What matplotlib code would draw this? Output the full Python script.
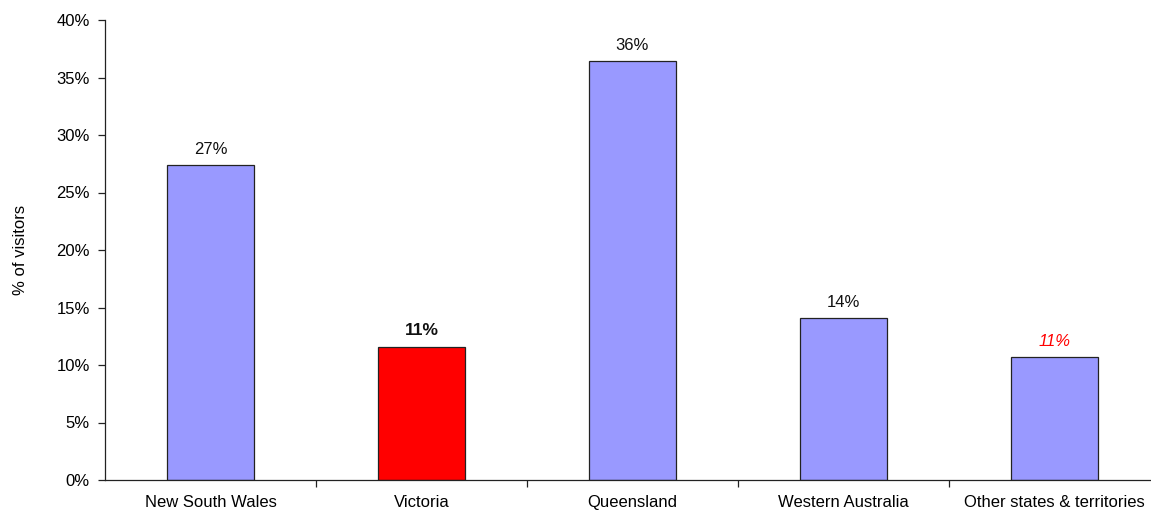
import matplotlib
matplotlib.use("Agg")
from matplotlib import pyplot as plt
from matplotlib.ticker import PercentFormatter

categories = [
    "New South Wales",
    "Victoria",
    "Queensland",
    "Western Australia",
    "Other states & territories",
]
shares = [27.4, 11.6, 36.4, 14.1, 10.7]  # % of visitors
labels = ["27%", "11%", "36%", "14%", "11%"]
y_ticks = [0, 5, 10, 15, 20, 25, 30, 35, 40]

plt.rcParams["font.family"] = ["Liberation Sans", "DejaVu Sans"]
plt.rcParams["font.size"] = 12

W, H = 1151, 513
fig = plt.figure(figsize=(W / 100, H / 100), dpi=100)
# axis from x=105 to 1160 px (runs past the right edge), y from 20 to 480 px
ax = fig.add_axes([105 / W, 1 - 480 / H, 1055 / W, 460 / H])

colors = ["#9999ff", "#ff0000", "#9999ff", "#9999ff", "#9999ff"]
x = list(range(len(categories)))
ax.bar(x, shares, width=0.41, color=colors, edgecolor="#222222", linewidth=0.9)

# data labels
styles = [
    {},
    {"fontweight": "bold", "fontsize": 12.5},
    {},
    {},
    {"style": "italic", "color": "#ff0000"},
]
for xi, v, lab, st in zip(x, shares, labels, styles):
    kw = {"color": "#111111"}
    kw.update(st)
    ax.annotate(lab, (xi, v), xytext=(0, 6), textcoords="offset points",
                ha="center", va="bottom", **kw)

ax.set_xlim(-0.5, len(categories) - 0.5)
ax.set_ylim(0, 40)
ax.set_yticks(y_ticks)
ax.yaxis.set_major_formatter(PercentFormatter(decimals=0))
ax.set_ylabel("% of visitors", labelpad=20)

# x ticks at the category boundaries, labels centred under bars
ax.set_xticks([i + 0.5 for i in x[:-1]])
ax.set_xticklabels([])
ax.set_xticks(x, minor=True)
ax.set_xticklabels(categories, minor=True)
ax.tick_params(axis="x", which="minor", length=0, pad=11)
ax.tick_params(axis="x", which="major", length=5, width=0.9, color="#222222")
ax.tick_params(axis="y", length=5, width=0.9, color="#222222", pad=6)

for side in ["top", "right"]:
    ax.spines[side].set_visible(False)
for side in ["left", "bottom"]:
    ax.spines[side].set_color("#222222")
    ax.spines[side].set_linewidth(0.9)

plt.savefig("out.png", dpi=100)
